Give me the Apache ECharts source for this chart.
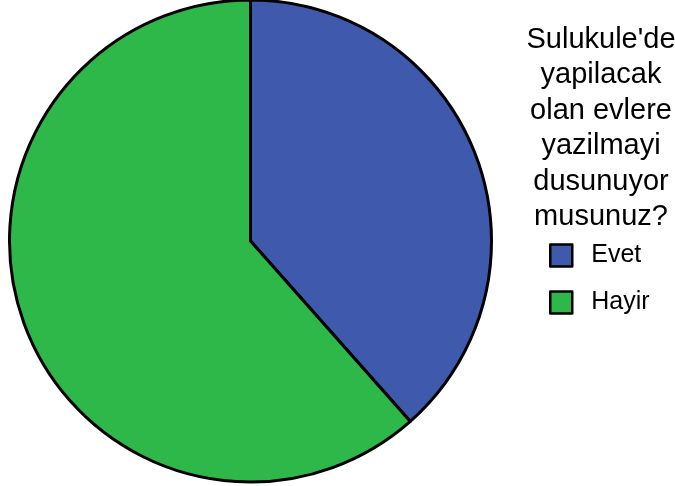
<!DOCTYPE html>
<html>
<head>
<meta charset="utf-8">
<script src="https://cdn.jsdelivr.net/npm/echarts@6/dist/echarts.min.js"></script>
<style>
  html, body { margin: 0; padding: 0; background: #ffffff; }
  #chart { width: 675px; height: 486px; }
</style>
</head>
<body>
<div id="chart"></div>
<script>
// Survey answers and their counts
var categories = ['Evet', 'Hayir'];
var counts = [10, 16];
var colors = ['#3F59AD', '#2EB84A'];
var titleLines = ["Sulukule'de", 'yapilacak', 'olan evlere', 'yazilmayi', 'dusunuyor', 'musunuz?'];

var chart = echarts.init(document.getElementById('chart'));

var pieData = categories.map(function (name, i) {
  return { name: name, value: counts[i], itemStyle: { color: colors[i] } };
});

chart.setOption({
  animation: false,
  backgroundColor: '#ffffff',
  graphic: [{
    type: 'text',
    x: 601,
    y: 22,
    style: {
      text: titleLines.join('\n'),
      textAlign: 'center',
      fontFamily: '"Liberation Sans", Arial, sans-serif',
      fontSize: 29,
      lineHeight: 35.5,
      fill: '#000000'
    }
  }],
  legend: {
    orient: 'vertical',
    left: 549,
    top: 243,
    padding: 0,
    itemWidth: 22,
    itemHeight: 22,
    itemGap: 22,
    icon: 'rect',
    data: categories,
    itemStyle: { borderColor: '#000000', borderWidth: 2.5 },
    textStyle: {
      fontFamily: '"Liberation Sans", Arial, sans-serif',
      fontSize: 25,
      color: '#000000',
      padding: [0, 0, 0, 14]
    }
  },
  series: [{
    type: 'pie',
    center: [250.5, 241],
    radius: 241,
    startAngle: 90,
    clockwise: true,
    label: { show: false },
    labelLine: { show: false },
    emphasis: { disabled: true },
    itemStyle: { borderColor: '#000000', borderWidth: 3 },
    data: pieData
  }]
});
</script>
</body>
</html>
